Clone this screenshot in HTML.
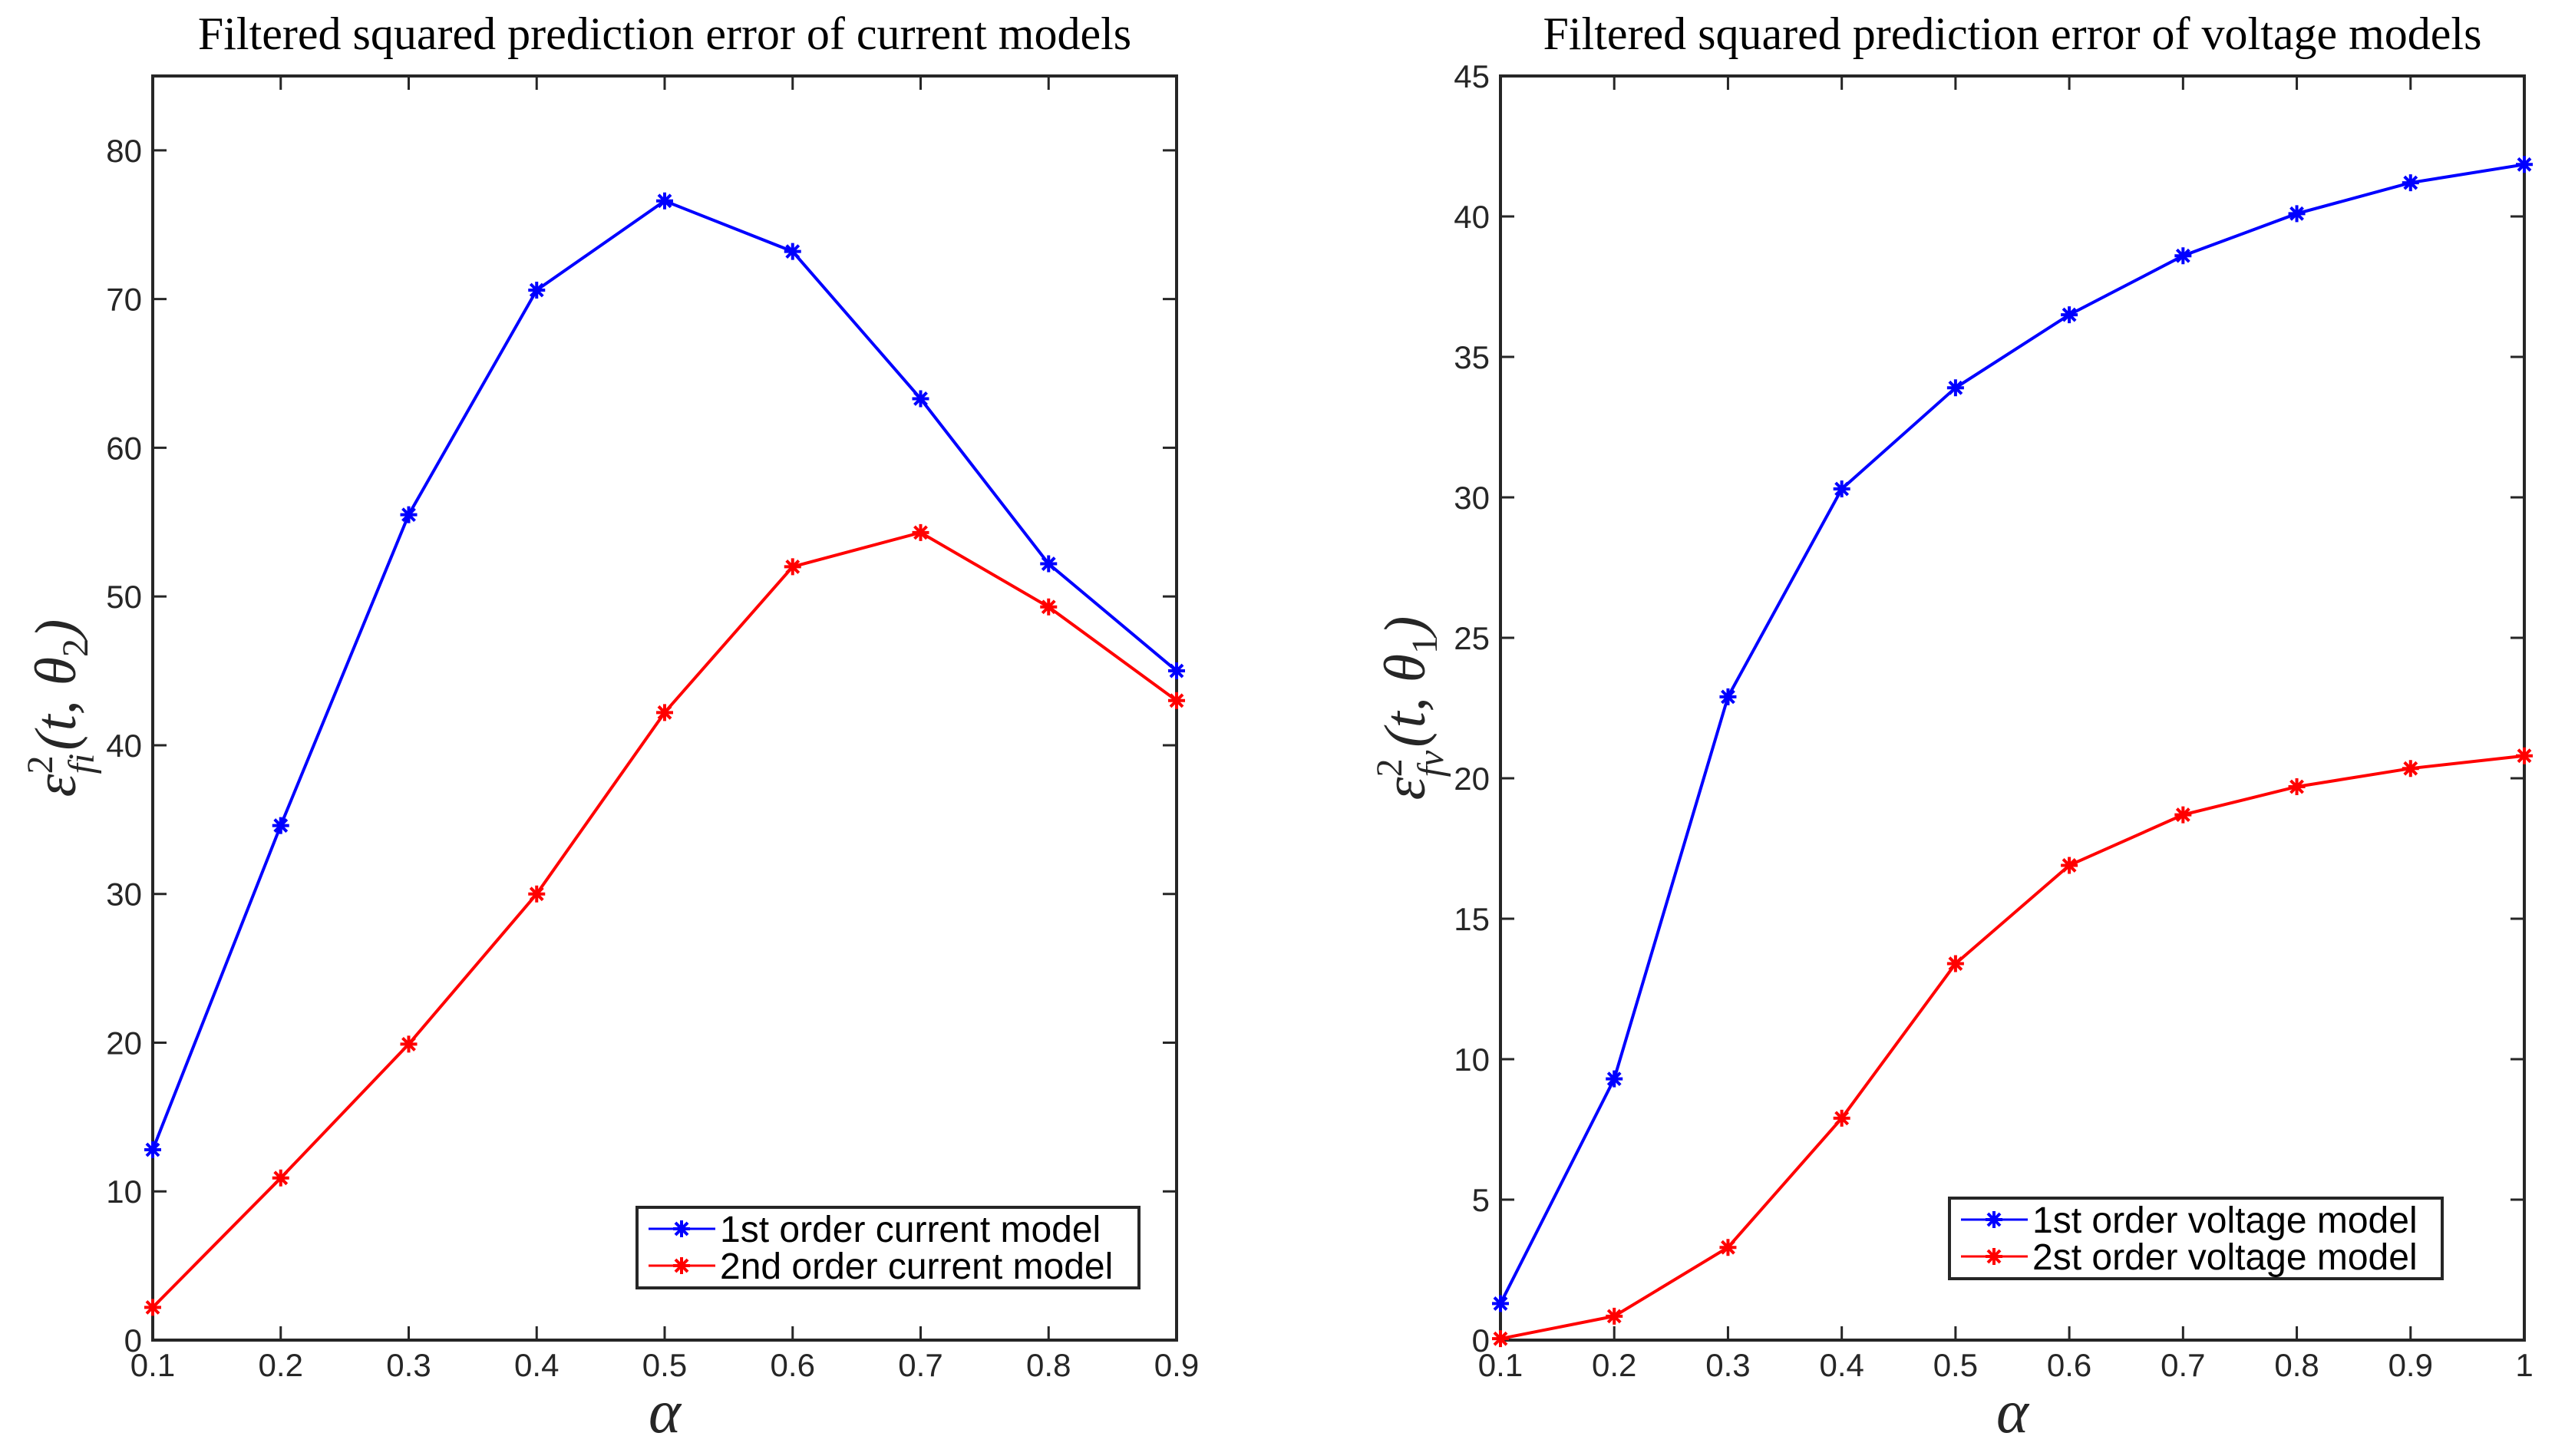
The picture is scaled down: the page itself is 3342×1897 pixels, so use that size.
<!DOCTYPE html>
<html><head><meta charset="utf-8"><style>
html,body{margin:0;padding:0;background:#fff;}
svg{display:block;}
</style></head><body>
<svg id="fig" width="3342" height="1897" viewBox="0 0 3342 1897" xmlns="http://www.w3.org/2000/svg"></svg>
<script>
// Left chart data
const alphaCurrent = [0.1,0.2,0.3,0.4,0.5,0.6,0.7,0.8,0.9];
const current1st = [12.8,34.6,55.5,70.6,76.6,73.2,63.3,52.2,45.0];
const current2nd = [2.2,10.9,19.9,30.0,42.2,52.0,54.3,49.3,43.0];
const currentYTicks = [0,10,20,30,40,50,60,70,80];
const currentXTicks = ["0.1","0.2","0.3","0.4","0.5","0.6","0.7","0.8","0.9"];
// Right chart data
const alphaVoltage = [0.1,0.2,0.3,0.4,0.5,0.6,0.7,0.8,0.9,1.0];
const voltage1st = [1.3,9.3,22.9,30.3,33.9,36.5,38.6,40.1,41.2,41.85];
const voltage2nd = [0.05,0.85,3.3,7.9,13.4,16.9,18.7,19.7,20.35,20.8];
const voltageYTicks = [0,5,10,15,20,25,30,35,40,45];
const voltageXTicks = ["0.1","0.2","0.3","0.4","0.5","0.6","0.7","0.8","0.9","1"];

const NS="http://www.w3.org/2000/svg";
const svg=document.getElementById('fig');
function mk(tag,attrs,parent){const e=document.createElementNS(NS,tag);for(const k in attrs)e.setAttribute(k,attrs[k]);(parent||svg).appendChild(e);return e;}

function star(g,x,y,color){
  const s=11,d=8;
  const p=mk('path',{d:`M${x-s},${y}H${x+s}M${x},${y-s}V${y+s}M${x-d},${y-d}L${x+d},${y+d}M${x-d},${y+d}L${x+d},${y-d}`,stroke:color,'stroke-width':4,fill:'none'},g);
  
  
}

function chart(o){
  const g=mk('g',{});
  
  
  const L=o.x0,R=o.x1,T=99,B=1746;
  const sx=v=>L+(v-o.xmin)/(o.xmax-o.xmin)*(R-L);
  const sy=v=>B-(v-o.ymin)/(o.ymax-o.ymin)*(B-T);
  o.xs.forEach((v,i)=>{
    const x=sx(v);
    mk('path',{d:`M${x},${B}V${B-18}M${x},${T}V${T+18}`,stroke:'#262626','stroke-width':3},g);
    const t=mk('text',{x:x,y:1793,'text-anchor':'middle','font-family':'Liberation Sans, sans-serif','font-size':42,fill:'#262626'},g);
    t.textContent=o.xl[i];
    
    
  });
  o.yt.forEach(v=>{
    const y=sy(v);
    mk('path',{d:`M${L},${y}H${L+18}M${R},${y}H${R-18}`,stroke:'#262626','stroke-width':3},g);
    const t=mk('text',{x:L-14,y:y+15,'text-anchor':'end','font-family':'Liberation Sans, sans-serif','font-size':42,fill:'#262626'},g);
    t.textContent=String(v);
    
    
  });
  const box=mk('rect',{x:L,y:T,width:R-L,height:B-T,fill:'none',stroke:'#262626','stroke-width':4},g);
  
  
  [[o.s1,'#0000ff','series-1st-order'],[o.s2,'#ff0000','series-2nd-order']].forEach(([arr,c,n])=>{
    const pts=arr.map((v,i)=>`${sx(o.xs[i])},${sy(v)}`).join(' ');
    const pl=mk('polyline',{points:pts,fill:'none',stroke:c,'stroke-width':4},g);
    
    
    arr.forEach((v,i)=>star(g,sx(o.xs[i]),sy(v),c));
  });
  const tt=mk('text',{x:(L+R)/2,y:64,'text-anchor':'middle','font-family':'Liberation Serif, serif','font-size':60,fill:'#000'},g);
  tt.textContent=o.title;
  
  
  const xl=mk('text',{x:(L+R)/2,y:1866,'text-anchor':'middle','font-family':'Liberation Serif, serif','font-style':'italic','font-size':80,fill:'#262626'},g);
  xl.textContent='α';
  
  
  const yl=mk('text',{transform:`translate(${o.ylx},${(T+B)/2}) rotate(-90)`,'text-anchor':'middle','font-family':'Liberation Serif, serif','font-style':'italic','font-size':76,fill:'#262626'},g);
  
  
  const a=mk('tspan',{},yl);a.textContent='ε';
  const b=mk('tspan',{dy:-30,'font-size':48,'font-style':'normal'},yl);b.textContent='2';
  const c=mk('tspan',{dx:-24,dy:54,'font-size':48},yl);c.textContent=o.sub;
  const d=mk('tspan',{dx:4,dy:-24},yl);d.textContent='(t, θ';
  const e=mk('tspan',{dy:16,'font-size':48,'font-style':'normal'},yl);e.textContent=o.th;
  const f=mk('tspan',{dy:-16},yl);f.textContent=')';
  const lg=mk('g',{},g);
  
  
  mk('rect',{x:o.lx,y:o.ly,width:o.lw,height:105,fill:'#fff',stroke:'#262626','stroke-width':4},lg);
  [[o.l1,'#0000ff'],[o.l2,'#ff0000']].forEach(([txt,col],i)=>{
    const y=o.ly+28+i*48;
    mk('line',{x1:o.lx+15,x2:o.lx+102,y1:y,y2:y,stroke:col,'stroke-width':3},lg);
    star(lg,o.lx+58,y,col);
    const t=mk('text',{x:o.lx+108,y:y+17,'font-family':'Liberation Sans, sans-serif','font-size':48,fill:'#000'},lg);
    t.textContent=txt;
    
    
  });
}

chart({name:'current-chart',x0:199,x1:1533,xmin:0.1,xmax:0.9,ymin:0,ymax:85,xs:alphaCurrent,xl:currentXTicks,yt:currentYTicks,s1:current1st,s2:current2nd,title:'Filtered squared prediction error of current models',ylx:98,sub:'fi',th:'2',lx:830,ly:1573,lw:654,l1:'1st order current model',l2:'2nd order current model'});
chart({name:'voltage-chart',x0:1955,x1:3289,xmin:0.1,xmax:1.0,ymin:0,ymax:45,xs:alphaVoltage,xl:voltageXTicks,yt:voltageYTicks,s1:voltage1st,s2:voltage2nd,title:'Filtered squared prediction error of voltage models',ylx:1856,sub:'fv',th:'1',lx:2540,ly:1561,lw:642,l1:'1st order voltage model',l2:'2st order voltage model'});
</script>
</body></html>
